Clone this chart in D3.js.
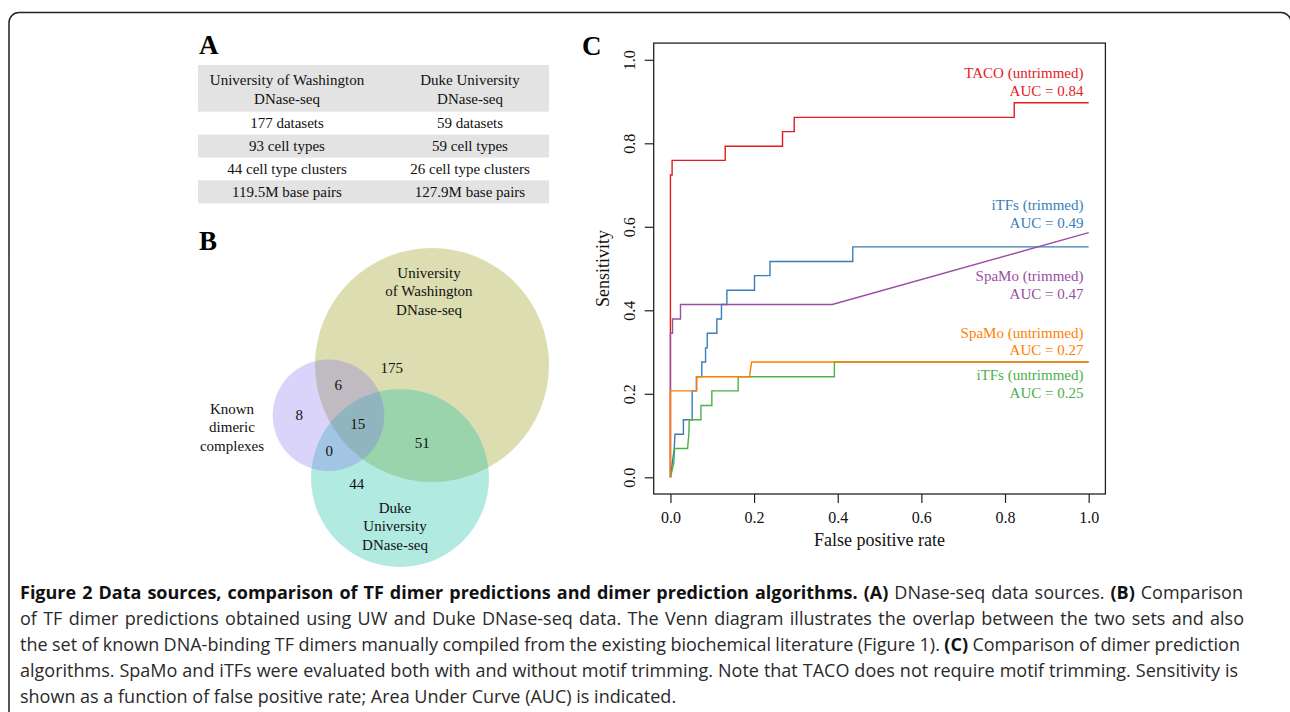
<!DOCTYPE html>
<html>
<head>
<meta charset="utf-8">
<script src="https://cdn.jsdelivr.net/npm/d3@7"></script>
<style>
  body { margin: 0; background: #fff; }
  svg { display: block; }
  .serif { font-family: "Liberation Serif", "Times New Roman", serif; }
</style>
</head>
<body>
<svg id="fig" width="1290" height="712"></svg>
<script>
// ---- panel A : table ----
var tableHeader = [["University of Washington", "DNase-seq"], ["Duke University", "DNase-seq"]];
var uwRows = ["177 datasets", "93 cell types", "44 cell type clusters", "119.5M base pairs"];
var dukeRows = ["59 datasets", "59 cell types", "26 cell type clusters", "127.9M base pairs"];

// ---- panel B : venn counts ----
var vennSets = ["University of Washington DNase-seq", "Duke University DNase-seq", "Known dimeric complexes"];
var vennRegions = ["UW only", "UW+Known", "Known only", "all three", "UW+Duke", "Duke+Known", "Duke only"];
var vennCounts = [175, 6, 8, 15, 51, 0, 44];

// ---- panel C : ROC curves (false positive rate, sensitivity) ----
var seriesNames = ["TACO (untrimmed)", "iTFs (trimmed)", "SpaMo (trimmed)", "iTFs (untrimmed)", "SpaMo (untrimmed)"];
var seriesAUC = [0.84, 0.49, 0.47, 0.25, 0.27];
var tacoFpr = [0, 0, 0.004, 0.004, 0.131, 0.131, 0.268, 0.268, 0.296, 0.296, 0.822, 0.822, 1.0];
var tacoSens = [0, 0.724, 0.724, 0.759, 0.759, 0.793, 0.793, 0.828, 0.828, 0.862, 0.862, 0.897, 0.897];
var itfsTrFpr = [0, 0.009, 0.011, 0.031, 0.031, 0.052, 0.052, 0.062, 0.062, 0.075, 0.075, 0.084, 0.084, 0.088, 0.088, 0.111, 0.111, 0.122, 0.122, 0.135, 0.135, 0.201, 0.201, 0.238, 0.238, 0.436, 0.436, 1.0];
var itfsTrSens = [0, 0.069, 0.103, 0.103, 0.138, 0.138, 0.207, 0.207, 0.241, 0.241, 0.276, 0.276, 0.310, 0.310, 0.345, 0.345, 0.379, 0.379, 0.414, 0.414, 0.448, 0.448, 0.483, 0.483, 0.517, 0.517, 0.552, 0.552];
var spamoTrFpr = [0, 0, 0.005, 0.005, 0.024, 0.024, 0.387, 1.0];
var spamoTrSens = [0, 0.345, 0.345, 0.379, 0.379, 0.414, 0.414, 0.586];
var itfsUnFpr = [0, 0.008, 0.010, 0.041, 0.044, 0.045, 0.073, 0.073, 0.099, 0.099, 0.162, 0.162, 0.392, 0.392, 1.0];
var itfsUnSens = [0, 0.034, 0.069, 0.069, 0.103, 0.138, 0.138, 0.172, 0.172, 0.207, 0.207, 0.241, 0.241, 0.276, 0.276];
var spamoUnFpr = [0, 0, 0.063, 0.063, 0.189, 0.194, 1.0];
var spamoUnSens = [0, 0.207, 0.207, 0.241, 0.241, 0.276, 0.276];
var xTicks = [0, 0.2, 0.4, 0.6, 0.8, 1.0];
var yTicks = [0, 0.2, 0.4, 0.6, 0.8, 1.0];

var captionLines = [
  [["Figure 2 Data sources, comparison of TF dimer predictions and dimer prediction algorithms.", 1], [" ", 0], ["(A)", 1], [" DNase-seq data sources. ", 0], ["(B)", 1], [" Comparison", 0]],
  [["of TF dimer predictions obtained using UW and Duke DNase-seq data. The Venn diagram illustrates the overlap between the two sets and also", 0]],
  [["the set of known DNA-binding TF dimers manually compiled from the existing biochemical literature (Figure 1). ", 0], ["(C)", 1], [" Comparison of dimer prediction", 0]],
  [["algorithms. SpaMo and iTFs were evaluated both with and without motif trimming. Note that TACO does not require motif trimming. Sensitivity is", 0]],
  [["shown as a function of false positive rate; Area Under Curve (AUC) is indicated.", 0]]
];

var svg = d3.select("#fig");

/* outer rounded frame */
svg.append("rect")
  .attr("x", 9).attr("y", 12.5).attr("width", 1282).attr("height", 760)
  .attr("rx", 10).attr("fill", "none").attr("stroke", "#222").attr("stroke-width", 1.5);

/* panel letters */
svg.selectAll("text.panel")
  .data([["A", 199, 54], ["B", 199, 250], ["C", 582, 55]])
  .enter().append("text")
  .attr("class", "panel serif")
  .attr("x", d => d[1])
  .attr("y", d => d[2])
  .style("font-size", "27px").style("font-weight", "bold")
  .text(d => d[0]);

// ================= Panel A =================
function drawTable() {
  var g = svg.append("g").attr("class", "serif").style("font-size", "15px").attr("fill", "#111");
  var col = d3.scalePoint().domain([0, 1]).range([287, 470]);
  var row = d3.scaleBand().domain(d3.range(uwRows.length)).range([111.7, 203.3]);

  g.append("rect").attr("x", 198).attr("y", 65).attr("width", 351).attr("height", 46.7).attr("fill", "#e3e3e3");
  g.selectAll("rect.row")
    .data(d3.range(uwRows.length).filter(i => i % 2 == 1))
    .enter().append("rect")
    .attr("class", "row")
    .attr("x", 198).attr("width", 351)
    .attr("y", i => row(i)).attr("height", row.bandwidth())
    .attr("fill", "#e3e3e3");

  tableHeader.forEach(function(lines, c) {
    g.selectAll(null).data(lines).enter().append("text")
      .attr("x", col(c)).attr("y", (d, i) => 79.3 + i * 19)
      .attr("dy", "0.35em").attr("text-anchor", "middle")
      .text(d => d);
  });
  [uwRows, dukeRows].forEach(function(rows, c) {
    g.selectAll(null).data(rows).enter().append("text")
      .attr("x", col(c)).attr("y", (d, i) => row(i) + row.bandwidth() / 2)
      .attr("dy", "0.35em").attr("text-anchor", "middle")
      .text(d => d);
  });
}

// ================= Panel B =================
function drawVenn() {
  var g = svg.append("g").attr("class", "serif").style("font-size", "15px");
  // circle geometry (layout only)
  var circles = [
    {cx: 432, cy: 365, r: 117, fill: "rgb(155,158,29)", op: 0.35},
    {cx: 400, cy: 478, r: 89, fill: "rgb(29,195,166)", op: 0.35},
    {cx: 328.5, cy: 415.3, r: 55.8, fill: "rgb(123,101,237)", op: 0.28}
  ];
  g.selectAll("circle").data(circles).enter().append("circle")
    .attr("cx", d => d.cx).attr("cy", d => d.cy).attr("r", d => d.r)
    .attr("fill", d => d.fill).attr("fill-opacity", d => d.op);

  var countPos = [[391.7, 367.7], [338.3, 385], [299.3, 415], [357.7, 424], [422.3, 442.7], [329.3, 451], [356.7, 483.3]];
  g.selectAll("text.count").data(vennCounts).enter().append("text")
    .attr("class", "count")
    .attr("x", (d, i) => countPos[i][0]).attr("y", (d, i) => countPos[i][1])
    .attr("dy", "0.35em").attr("text-anchor", "middle").attr("fill", "#111")
    .text(d => d);

  var setLabels = [
    {lines: ["University", "of Washington", "DNase-seq"], x: 429, y: 272.3},
    {lines: ["Duke", "University", "DNase-seq"], x: 395, y: 507.3},
    {lines: ["Known", "dimeric", "complexes"], x: 232, y: 408.3}
  ];
  setLabels.forEach(function(s) {
    g.selectAll(null).data(s.lines).enter().append("text")
      .attr("x", s.x).attr("y", (d, i) => s.y + i * 18.5)
      .attr("dy", "0.35em").attr("text-anchor", "middle").attr("fill", "#111")
      .text(d => d);
  });
}

// ================= Panel C =================
function drawRoc() {
  var g = svg.append("g").attr("class", "serif");
  var x = d3.scaleLinear().domain([-0.04, 1.04]).range([653.7, 1105.4]);
  var y = d3.scaleLinear().domain([-0.04, 1.04]).range([494, 43.1]);

  var xa = g.append("g").attr("transform", "translate(0,494)")
    .call(d3.axisBottom(x).tickValues(xTicks).tickFormat(d3.format(".1f")).tickSize(9).tickPadding(9));
  var ya = g.append("g").attr("transform", "translate(653.7,0)")
    .call(d3.axisLeft(y).tickValues(yTicks).tickFormat(d3.format(".1f")).tickSize(9));
  [xa, ya].forEach(function(a) {
    a.select(".domain").remove();
    a.selectAll("line").attr("stroke", "#222").attr("stroke-width", 1.2);
    a.selectAll("text").style("font-size", "16px").style("font-family", "Liberation Serif").attr("fill", "#111");
  });
  ya.selectAll("text")
    .attr("transform", "rotate(-90)")
    .attr("x", 0).attr("y", -18.4).attr("dy", 0)
    .attr("text-anchor", "middle");

  var series = [
    {fpr: tacoFpr, sens: tacoSens, color: "#e41a1c"},
    {fpr: itfsTrFpr, sens: itfsTrSens, color: "#377eb8"},
    {fpr: spamoTrFpr, sens: spamoTrSens, color: "#984ea3"},
    {fpr: itfsUnFpr, sens: itfsUnSens, color: "#4daf4a"},
    {fpr: spamoUnFpr, sens: spamoUnSens, color: "#ff7f00"}
  ];
  var line = d3.line().x(d => x(d[0])).y(d => y(d[1]));
  g.selectAll("path.roc").data(series).enter().append("path")
    .attr("class", "roc")
    .attr("d", s => line(d3.zip(s.fpr, s.sens)))
    .attr("fill", "none").attr("stroke", s => s.color).attr("stroke-width", 1.4);

  g.append("rect")
    .attr("x", x(-0.04)).attr("y", y(1.04))
    .attr("width", x(1.04) - x(-0.04)).attr("height", y(-0.04) - y(1.04))
    .attr("fill", "none").attr("stroke", "#222").attr("stroke-width", 1.3);

  // curve labels, right aligned
  var labelY = [78.3, 210, 281, 380, 337.7];
  g.selectAll("text.lab").data(series).enter().append("text")
    .attr("class", "lab")
    .attr("x", 1083.5).attr("y", (d, i) => labelY[i])
    .attr("text-anchor", "end").attr("fill", d => d.color)
    .style("font-size", "15px")
    .each(function(d, i) {
      d3.select(this).append("tspan").attr("x", 1083.5).text(seriesNames[i]);
      d3.select(this).append("tspan").attr("x", 1083.5).attr("dy", 17.7).text("AUC = " + seriesAUC[i].toFixed(2));
    });

  g.append("text").attr("x", x(0.5)).attr("y", 546).attr("text-anchor", "middle")
    .style("font-size", "18px").attr("fill", "#111").text("False positive rate");
  g.append("text").attr("transform", "translate(609," + y(0.5) + ") rotate(-90)")
    .attr("text-anchor", "middle").style("font-size", "18px").attr("fill", "#111").text("Sensitivity");
}

// ================= caption =================
function drawCaption() {
  // right edges of the justified lines in the reference
  var widths = [1223, 1224, 1220, 1218, null];
  var cap = svg.append("g").style("font-family", "'Open Sans', sans-serif").style("font-size", "18px").attr("fill", "#231f20");
  cap.selectAll("text").data(captionLines).enter().append("text")
    .attr("x", 20).attr("y", (d, i) => 599 + i * 26)
    .each(function(parts, i) {
      var t = d3.select(this);
      parts.forEach(function(p) {
        t.append("tspan").style("font-weight", p[1] ? "bold" : "normal").attr("fill", p[1] ? "#111" : "#2a2a2a").text(p[0]);
      });
      if (widths[i]) {
        var natural = this.getComputedTextLength();
        var spaces = parts.map(p => p[0]).join("").split(" ").length - 1;
        t.style("word-spacing", ((widths[i] - natural) / spaces) + "px");
      }
    });
}

drawTable();
drawVenn();
drawRoc();
drawCaption();
</script>
</body>
</html>
